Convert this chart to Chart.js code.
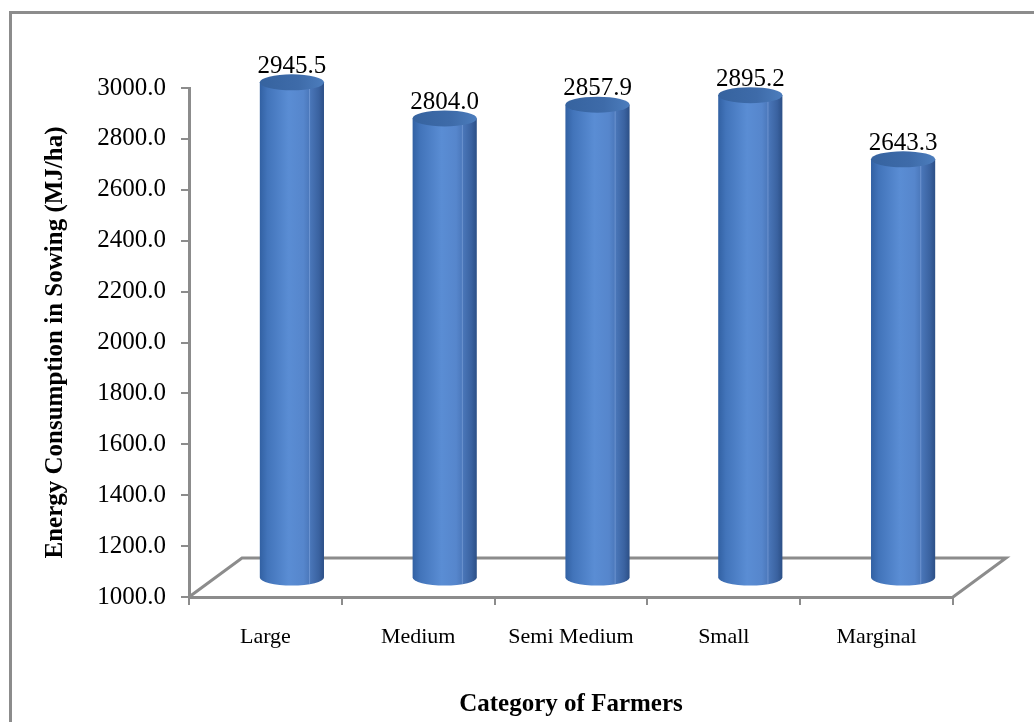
<!DOCTYPE html>
<html lang="en">
<head>
<meta charset="UTF-8">
<title>Energy Consumption in Sowing</title>
<script src="https://cdn.jsdelivr.net/npm/chart.js@4.4.0/dist/chart.umd.min.js"></script>
<style>
  html, body { margin: 0; padding: 0; background: #fff; }
  #wrap { width: 1034px; height: 722px; position: relative; }
</style>
</head>
<body>
<div id="wrap"><canvas id="energyChart" width="1034" height="722"></canvas></div>
<script>
/* ---------- data ---------- */
const categories = ['Large', 'Medium', 'Semi Medium', 'Small', 'Marginal'];
const energySowing = [2945.5, 2804.0, 2857.9, 2895.2, 2643.3];
const yMin = 1000;
const yMax = 3000;
const yStep = 200;

/* ---------- look ---------- */
const FONT = '"Liberation Serif", "Times New Roman", serif';
const AXIS_GRAY = '#8c8c8c';
const DEPTH_X = 53, DEPTH_Y = 39;   // 3d floor depth
const CYL_RY = 8;

// outer frame of the excel chart object
const framePlugin = {
  id: 'frame',
  beforeDraw(chart) {
    const ctx = chart.ctx;
    ctx.save();
    ctx.fillStyle = '#fff';
    ctx.fillRect(0, 0, chart.width, chart.height);
    ctx.strokeStyle = AXIS_GRAY;
    ctx.lineWidth = 3;
    ctx.strokeRect(10.5, 12.5, chart.width + 20, chart.height + 20);
    ctx.restore();
  }
};

// floor of the 3d plot
const floorPlugin = {
  id: 'floor',
  beforeDatasetsDraw(chart) {
    const { ctx, chartArea: a } = chart;
    ctx.save();
    ctx.strokeStyle = AXIS_GRAY;
    ctx.lineWidth = 3;
    ctx.beginPath();
    ctx.moveTo(a.left, a.bottom);
    ctx.lineTo(a.left + DEPTH_X, a.bottom - DEPTH_Y);
    ctx.lineTo(a.right + DEPTH_X, a.bottom - DEPTH_Y);
    ctx.lineTo(a.right, a.bottom);
    ctx.stroke();
    ctx.restore();
  }
};

// draw each bar as a cylinder, set half way into the depth
const cylinderPlugin = {
  id: 'cylinders',
  afterDatasetsDraw(chart) {
    const ctx = chart.ctx;
    const meta = chart.getDatasetMeta(0);
    const floorY = chart.scales.y.getPixelForValue(yMin);
    const dx = DEPTH_X / 2, dy = -DEPTH_Y / 2;
    meta.data.forEach((bar, i) => {
      const cx = bar.x + dx;
      const top = bar.y + dy;
      const base = floorY + dy;
      const rx = bar.width / 2;
      ctx.save();

      // body
      const g = ctx.createLinearGradient(cx - rx, 0, cx + rx, 0);
      g.addColorStop(0, '#3261a3');
      g.addColorStop(0.12, '#4274ba');
      g.addColorStop(0.45, '#5a8dd4');
      g.addColorStop(0.68, '#5686cc');
      g.addColorStop(0.8, '#4874b6');
      g.addColorStop(0.92, '#3a62a0');
      g.addColorStop(1, '#2c4f86');
      ctx.beginPath();
      ctx.moveTo(cx - rx, top);
      ctx.lineTo(cx - rx, base);
      ctx.ellipse(cx, base, rx, CYL_RY, 0, Math.PI, 0, true);
      ctx.lineTo(cx + rx, top);
      ctx.closePath();
      ctx.fillStyle = g;
      ctx.fill();

      // faint highlight line
      ctx.strokeStyle = 'rgba(150,185,235,0.45)';
      ctx.lineWidth = 1;
      ctx.beginPath();
      ctx.moveTo(cx + rx * 0.55, top + CYL_RY * 0.8);
      ctx.lineTo(cx + rx * 0.55, base + CYL_RY * 0.8);
      ctx.stroke();

      // top cap
      const gt = ctx.createLinearGradient(cx - rx, 0, cx + rx, 0);
      gt.addColorStop(0, '#36639f');
      gt.addColorStop(0.6, '#3e6ba9');
      gt.addColorStop(1, '#4c7dbd');
      ctx.beginPath();
      ctx.ellipse(cx, top, rx, CYL_RY, 0, 0, Math.PI * 2);
      ctx.fillStyle = gt;
      ctx.fill();

      // value label
      ctx.fillStyle = '#000';
      ctx.font = '25px ' + FONT;
      ctx.textAlign = 'center';
      ctx.textBaseline = 'middle';
      ctx.fillText(energySowing[i].toFixed(1), cx, top - 16);
      ctx.restore();
    });
  }
};

new Chart(document.getElementById('energyChart'), {
  type: 'bar',
  data: {
    labels: categories,
    datasets: [{
      label: 'Energy Consumption in Sowing',
      data: energySowing,
      base: yMin,
      backgroundColor: 'rgba(0,0,0,0)',
      borderWidth: 0,
      categoryPercentage: 1,
      barPercentage: 0.42
    }]
  },
  options: {
    responsive: false,
    animation: false,
    devicePixelRatio: 1,
    layout: { padding: { top: 88, right: 81, left: 0, bottom: 0 } },
    plugins: {
      legend: { display: false },
      tooltip: { enabled: false }
    },
    scales: {
      x: {
        grid: { drawOnChartArea: false, tickLength: 8, color: AXIS_GRAY, lineWidth: 2 },
        border: { color: AXIS_GRAY, width: 3 },
        ticks: { color: '#000', font: { family: FONT, size: 22 }, padding: 19 },
        title: {
          display: true, text: 'Category of Farmers', color: '#000',
          font: { family: FONT, size: 25, weight: 'bold' },
          padding: { top: 0, bottom: 2 }
        },
        afterFit(scale) { scale.height = 125; }
      },
      y: {
        min: yMin,
        max: yMax,
        grid: { drawOnChartArea: false, tickLength: 8, color: AXIS_GRAY, lineWidth: 2 },
        border: { color: AXIS_GRAY, width: 3 },
        ticks: {
          stepSize: yStep, color: '#000', padding: 15,
          font: { family: FONT, size: 25 },
          callback: v => Number(v).toFixed(1)
        },
        title: {
          display: true, text: 'Energy Consumption in Sowing (MJ/ha)', color: '#000',
          font: { family: FONT, size: 25, weight: 'bold' },
          padding: { top: 41, bottom: 0 }
        },
        afterFit(scale) { scale.width = 189; }
      }
    }
  },
  plugins: [framePlugin, floorPlugin, cylinderPlugin]
});
</script>
</body>
</html>
